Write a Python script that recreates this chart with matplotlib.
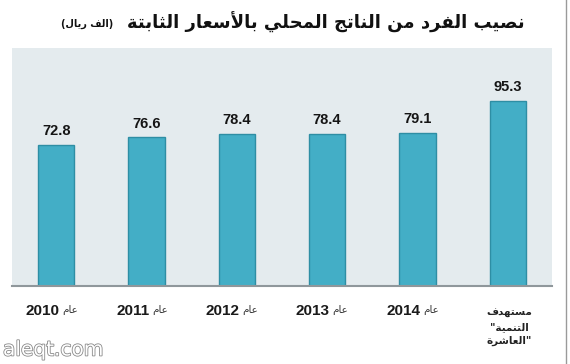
import matplotlib
matplotlib.use('Agg')
import matplotlib.pyplot as plt
import matplotlib.patheffects as pe
from matplotlib import font_manager
import numpy as np

# Data
years = ['2010', '2011', '2012', '2013', '2014']
year_word = 'عام'
target_lines = ['مستهدف', 'التنمية', 'العاشرة']
values = [72.8, 76.6, 78.4, 78.4, 79.1, 95.3]
title_main = 'نصيب الفرد من الناتج المحلي بالأسعار الثابتة'
title_unit = 'الف ريال'
watermark = 'aleqt.com'

# Arabic contextual shaping (matplotlib has no bidi/shaping of its own)
AR_BASE = {'ا': (0xFE8D, 2), 'أ': (0xFE83, 2), 'ب': (0xFE8F, 4), 'ة': (0xFE93, 2),
           'ت': (0xFE95, 4), 'ث': (0xFE99, 4), 'ج': (0xFE9D, 4), 'ح': (0xFEA1, 4),
           'د': (0xFEA9, 2), 'ر': (0xFEAD, 2), 'س': (0xFEB1, 4), 'ش': (0xFEB5, 4),
           'ص': (0xFEB9, 4), 'ع': (0xFEC9, 4), 'ف': (0xFED1, 4), 'ل': (0xFEDD, 4),
           'م': (0xFEE1, 4), 'ن': (0xFEE5, 4), 'ه': (0xFEE9, 4), 'ي': (0xFEF1, 4)}
LAM_ALEF = {'ا': 0xFEFB, 'أ': 0xFEF7}


def ar(text):
    chars = []
    i = 0
    while i < len(text):
        c = text[i]
        if c == 'ل' and i + 1 < len(text) and text[i + 1] in LAM_ALEF:
            chars.append(('LA', text[i + 1]))
            i += 2
        else:
            chars.append(c)
            i += 1

    def joins(c):
        if isinstance(c, tuple):
            return 2
        return AR_BASE[c][1] if c in AR_BASE else 0

    out = []
    for k, c in enumerate(chars):
        prev = chars[k - 1] if k > 0 else None
        nxt = chars[k + 1] if k + 1 < len(chars) else None
        jp = prev is not None and joins(prev) == 4 and joins(c) > 0
        jn = nxt is not None and joins(c) == 4 and joins(nxt) > 0
        if isinstance(c, tuple):
            out.append(chr(LAM_ALEF[c[1]] + (1 if jp else 0)))
        elif c in AR_BASE:
            off = 3 if (jp and jn) else 1 if jp else 2 if jn else 0
            out.append(chr(AR_BASE[c][0] + off))
        else:
            out.append(c)
    return ''.join(out)[::-1]


names = {f.name for f in font_manager.fontManager.ttflist}
narrow = 'Liberation Sans Narrow' in names
num_font = 'Liberation Sans Narrow' if narrow else 'Liberation Sans'
num_size = 12 if narrow else 11

fig = plt.figure(figsize=(5.7, 3.64), dpi=100)
fig.patch.set_facecolor('white')
ax = fig.add_axes([12 / 570, 1 - 286 / 364, 540 / 570, 238 / 364])
ax.set_facecolor('#e4ebee')

x = np.arange(len(values))
bars = ax.bar(x, values, width=0.4, color='#43aec6', edgecolor='#2e8ea4', linewidth=1, zorder=2)
ax.set_xlim(-0.49, len(values) - 0.51)
ax.set_ylim(0, 122.7)
ax.set_xticks([])
ax.set_yticks([])
for s in ['top', 'left', 'right']:
    ax.spines[s].set_visible(False)
ax.spines['bottom'].set_color('#8f979b')
ax.spines['bottom'].set_linewidth(1.5)

# value labels
for rect, v in zip(bars, values):
    ax.annotate(f'{v}', xy=(rect.get_x() + rect.get_width() / 2, v), xytext=(0, 7),
                textcoords='offset points', ha='center', va='baseline',
                fontsize=10.5, fontweight='bold', family='Liberation Sans', color='#151515')

# category labels
for i, yr in enumerate(years):
    ax.annotate(yr, xy=(i, 0), xytext=(2, -18), textcoords='offset points',
                ha='right', va='center', fontsize=num_size, fontweight='bold',
                family=num_font, color='#1a1a1a')
    ax.annotate(ar(year_word), xy=(i, 0), xytext=(4, -17), textcoords='offset points',
                ha='left', va='center', fontsize=7.5, family='DejaVu Sans', color='#333333')

last = len(values) - 1
target_text = '\n'.join([ar(target_lines[0]), '"' + ar(target_lines[1]), ar(target_lines[2]) + '"'])
ax.annotate(target_text, xy=(last, 0), xytext=(1, -16), textcoords='offset points',
            ha='center', va='top', fontsize=7.5, fontweight='bold', family='DejaVu Sans',
            color='#222222', linespacing=1.45, multialignment='center')

# title
fig.text(525 / 570, 1 - 22 / 364, ar(title_main), ha='right', va='center',
         fontsize=13, fontweight='bold', family='DejaVu Sans', color='#111111')
fig.text(113 / 570, 1 - 24 / 364, '(' + ar(title_unit) + ')', ha='right', va='center',
         fontsize=7, fontweight='bold', family='DejaVu Sans', color='#111111')

# watermark
fig.text(3 / 570, 1 - 350 / 364, watermark, ha='left', va='center', fontsize=14.5,
         family='DejaVu Sans', color='white',
         path_effects=[pe.Stroke(linewidth=1.2, foreground='#8a8a8a'), pe.Normal()])

# right border
fig.add_artist(plt.Line2D([566 / 570, 566 / 570], [0, 1], transform=fig.transFigure,
                          color='#9a9a9a', linewidth=1))

fig.savefig('out.png', dpi=100, facecolor='white')
